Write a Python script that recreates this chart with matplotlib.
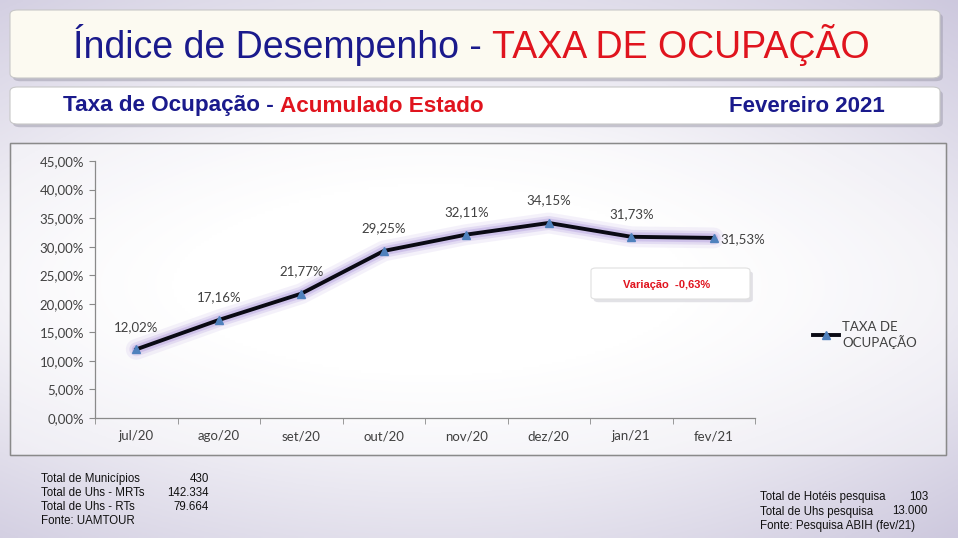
import numpy as np
import matplotlib
matplotlib.use("Agg")
import matplotlib.pyplot as plt
from matplotlib.patches import FancyBboxPatch, Rectangle
from matplotlib.lines import Line2D

meses = ["jul/20", "ago/20", "set/20", "out/20", "nov/20", "dez/20", "jan/21", "fev/21"]
taxa = [12.02, 17.16, 21.77, 29.25, 32.11, 34.15, 31.73, 31.53]
yticks = [0, 5, 10, 15, 20, 25, 30, 35, 40, 45]

info_esq = [("Total de Municípios", "430"), ("Total de Uhs - MRTs", "142.334"),
            ("Total de Uhs - RTs", "79.664"), ("Fonte: UAMTOUR", "")]
info_dir = [("Total de Hotéis pesquisa", "103"), ("Total de Uhs pesquisa", "13.000"),
            ("Fonte: Pesquisa ABIH (fev/21)", "")]

W, H = 958, 538
NAVY = "#1a1a8c"
RED = "#e0141e"
TXT = "#404040"
NARROW = ["Liberation Sans Narrow", "Liberation Sans", "DejaVu Sans"]
CHART = ["Lato", "DejaVu Sans"]


def fx(px):
    return px / W


def fy(py):
    return 1 - py / H


fig = plt.figure(figsize=(W / 100, H / 100), dpi=100)

# fundo em degradê
bg = fig.add_axes([0, 0, 1, 1], zorder=0)
yy, xx = np.mgrid[0:1:200j, 0:1:360j]
d = np.sqrt(((xx - 0.45) / 0.75) ** 2 + ((yy - 0.5) / 0.7) ** 2)
band = np.exp(-((yy - 0.55) / 0.25) ** 2)
val = np.clip(1 - 0.9 * d ** 1.5 + 0.2 * band, 0, 1)
c0 = np.array([0.79, 0.77, 0.86])
c1 = np.array([1.0, 1.0, 1.0])
img = c0 + (c1 - c0) * val[..., None]
bg.imshow(img, extent=[0, 1, 0, 1], aspect="auto", origin="upper")
bg.set_xlim(0, 1)
bg.set_ylim(0, 1)
bg.axis("off")


def caixa(x0, y0, x1, y1, fc, ec="#c8c8c8", r=0.008):
    sh = FancyBboxPatch((fx(x0) + 0.003, fy(y1) - 0.006), fx(x1 - x0), (y1 - y0) / H,
                        boxstyle=f"round,pad=0,rounding_size={r}", transform=fig.transFigure,
                        fc="#9a98a8", ec="none", alpha=0.5, zorder=1)
    fig.patches.append(sh)
    p = FancyBboxPatch((fx(x0), fy(y1)), fx(x1 - x0), (y1 - y0) / H,
                       boxstyle=f"round,pad=0,rounding_size={r}", transform=fig.transFigure,
                       fc=fc, ec=ec, lw=0.8, zorder=2)
    fig.patches.append(p)


def texto_duplo(x0, y0, a, b, size, weight="normal"):
    t = fig.text(fx(x0), fy(y0), a, color=NAVY, fontsize=size, weight=weight,
                 family=NARROW, va="center", ha="left", zorder=5)
    fig.canvas.draw()
    bb = t.get_window_extent()
    fig.text(bb.x1 / fig.dpi / fig.get_figwidth(), fy(y0), b, color=RED, fontsize=size,
             weight=weight, family=NARROW, va="center", ha="left", zorder=5)


# caixas de título
caixa(10, 10, 940, 78, "#fcfaf1")
caixa(10, 87, 940, 124, "#ffffff")

texto_duplo(73, 45, "Índice de Desempenho - ", "TAXA DE OCUPAÇÃO", 27)
texto_duplo(63, 106, "Taxa de Ocupação - ", "Acumulado Estado", 16.2, "bold")
fig.text(fx(885), fy(106), "Fevereiro 2021", color=NAVY, fontsize=16, weight="bold",
         family=NARROW, va="center", ha="right", zorder=5)

# moldura do gráfico
fr = Rectangle((fx(10), fy(455)), fx(936), (455 - 143) / H, transform=fig.transFigure,
               fc="white", ec="#8a8a8a", lw=1.0, alpha=0.45, zorder=2)
fig.patches.append(fr)
fr2 = Rectangle((fx(10), fy(455)), fx(936), (455 - 143) / H, transform=fig.transFigure,
                fc="none", ec="#8a8a8a", lw=1.0, zorder=2)
fig.patches.append(fr2)

ax = fig.add_axes([fx(95), fy(418), fx(755 - 95), (418 - 161) / H], zorder=3)
ax.patch.set_alpha(0)
x = np.arange(len(meses))
for lw, a in [(15, 0.1), (10, 0.18), (6.5, 0.28)]:
    ax.plot(x, taxa, color="#9b7fd4", lw=lw, alpha=a, solid_capstyle="round",
            solid_joinstyle="round")
ax.plot(x, taxa, color="#0a0a14", lw=2.8, marker="^", ms=6, mfc="#4f81bd",
        mec="#4f81bd", solid_joinstyle="round")

for i, v in enumerate(taxa):
    s = f"{v:.2f}%".replace(".", ",")
    if i == len(taxa) - 1:
        ax.annotate(s, (i, v), xytext=(5, -1), textcoords="offset points",
                    ha="left", va="center", fontsize=9.5, color=TXT, family=CHART)
    else:
        ax.annotate(s, (i, v), xytext=(0, 12), textcoords="offset points",
                    ha="center", va="bottom", fontsize=9.5, color=TXT, family=CHART)

ax.set_xlim(-0.5, len(meses) - 0.5)
ax.set_ylim(0, 45)
ax.set_yticks(yticks)
ax.set_yticklabels([f"{v:.2f}%".replace(".", ",") for v in yticks])
ax.set_xticks(x)
ax.set_xticklabels(meses)
ax.set_xticks(np.arange(-0.5, len(meses)), minor=True)
ax.tick_params(axis="x", which="major", length=0, pad=9)
ax.tick_params(axis="x", which="minor", length=4, color="#8a8a8a", direction="out")
ax.tick_params(axis="y", length=4, color="#8a8a8a", pad=4)
for lab in ax.get_xticklabels() + ax.get_yticklabels():
    lab.set_family(CHART)
    lab.set_fontsize(9.5)
    lab.set_color(TXT)
for s in ["top", "right"]:
    ax.spines[s].set_visible(False)
for s in ["left", "bottom"]:
    ax.spines[s].set_color("#8a8a8a")
    ax.spines[s].set_linewidth(0.9)

h = Line2D([], [], color="#0a0a14", lw=2.8, marker="^", ms=6, mfc="#4f81bd", mec="#4f81bd")
leg = fig.legend([h], ["TAXA DE\nOCUPAÇÃO"], loc="center left",
                 bbox_to_anchor=(fx(801), fy(335)), frameon=False, handlelength=2.0,
                 handletextpad=0.2, prop={"family": CHART, "size": 9.5})
for t in leg.get_texts():
    t.set_color(TXT)

# caixa da variação
caixa(591, 268, 750, 299, "#ffffff", ec="#e0e0e0", r=0.005)
fig.text(fx(667), fy(285), "Variação  -0,63%", color=RED, fontsize=8, weight="bold",
         family=NARROW, ha="center", va="center", zorder=5)

# notas de rodapé
for k, (a, b) in enumerate(info_esq):
    yk = fy(479 + 14 * k)
    fig.text(fx(41), yk, a, fontsize=8.3, family=NARROW, color="#111111", va="center")
    if b:
        fig.text(fx(209), yk, b, fontsize=8.3, family=NARROW, color="#111111",
                 va="center", ha="right")
for k, (a, b) in enumerate(info_dir):
    yk = fy(497 + 14.5 * k)
    fig.text(fx(760), yk, a, fontsize=8.3, family=NARROW, color="#111111", va="center")
    if b:
        fig.text(fx(928), yk, b, fontsize=8.3, family=NARROW, color="#111111",
                 va="center", ha="right")

fig.savefig("out.png", dpi=100)
